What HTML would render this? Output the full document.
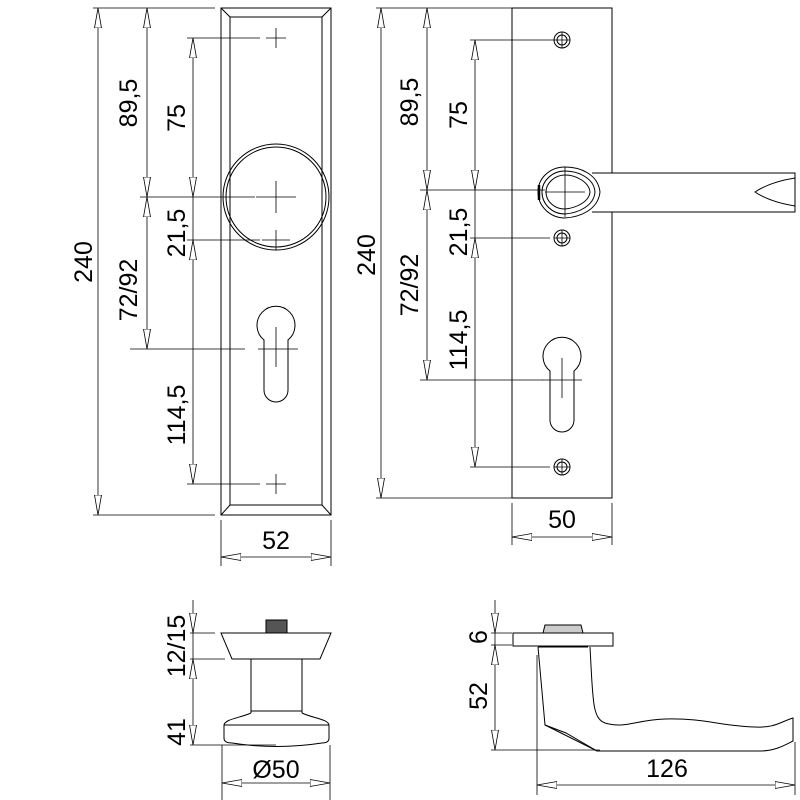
<!DOCTYPE html>
<html><head><meta charset="utf-8"><style>body{margin:0;background:#fff}svg{display:block}text{font-family:"Liberation Sans",sans-serif;font-size:25px;fill:#000}</style></head>
<body>
<svg width="800" height="800" viewBox="0 0 800 800" xmlns="http://www.w3.org/2000/svg">
<defs>
<marker id="a" viewBox="0 0 20 8" refX="20" refY="4" markerWidth="20" markerHeight="8" markerUnits="userSpaceOnUse" orient="auto-start-reverse"><path d="M0,0.5 L20,4 L0,7.5 Z" fill="#fff" stroke="#000" stroke-width="0.8"/></marker>
</defs>
<g fill="none" stroke="#000" stroke-width="1">
<rect x="221" y="8" width="110" height="507"/>
<rect x="230" y="17" width="92" height="488"/>
<path d="M221,8 L230,17 M331,8 L322,17 M221,515 L230,505 M331,515 L322,505"/>
<circle cx="276" cy="197" r="53"/><circle cx="276" cy="197" r="50"/>
<path d="M264,340 A19,19 0 1 1 288,340 L288,390 A12,12 0 0 1 264,390 Z"/>
<g stroke-width="0.8">
<path d="M266,38h20M276,28v20 M256,197h40M276,181v32 M262,240h28M276,230v20 M258,349h40M276,327v40 M266,484h20M276,474v20"/>
<path d="M93,8H215 M187,38H260 M140,197H255 M187,240H260 M130,349H245 M187,484H260 M93,515H215 M221,520V566 M331,520V566"/>
<path d="M98,8V515" marker-start="url(#a)" marker-end="url(#a)"/>
<path d="M147,8V197" marker-start="url(#a)" marker-end="url(#a)"/>
<path d="M147,197V349" marker-start="url(#a)" marker-end="url(#a)"/>
<path d="M193,38V197" marker-start="url(#a)" marker-end="url(#a)"/>
<path d="M193,240V484" marker-start="url(#a)" marker-end="url(#a)"/>
<path d="M193,197V240"/>
<path d="M221,557H331" marker-start="url(#a)" marker-end="url(#a)"/>
</g>
<rect x="512" y="8" width="100" height="490"/>
<circle cx="562" cy="40" r="8"/><circle cx="562" cy="40" r="5"/>
<circle cx="562" cy="238" r="8"/><circle cx="562" cy="238" r="5"/>
<circle cx="562" cy="467" r="8"/><circle cx="562" cy="467" r="5"/>
<path d="M550,371 A19,19 0 1 1 574,371 L574,420 A12,12 0 0 1 550,420 Z"/>
<path d="M592,173 L795,173 L795,212 L592,212" fill="#fff"/>
<path d="M795,178 Q770,182 755,192 Q770,202 795,206"/>
<path d="M565,167 C550,167 538,178 538,192 C538,206 550,218 565,218 C580,217 598,210 600,192 C598,174 580,167 565,167 Z" fill="#fff"/>
<path d="M565,171 C552,171 542,181 542,192 C542,204 552,214 565,214 C578,213 594,206 595,192 C594,178 578,171 565,171 Z"/>
<path d="M565,175 C555,175 546,183 546,192 C546,202 555,209 565,209 C576,208 589,202 590,192 C589,182 576,175 565,175 Z"/>
<path d="M539,185 L539,200" stroke-width="2.5"/>
<g stroke-width="0.8">
<path d="M554,40h16M562,32v16 M554,238h16M562,230v16 M554,467h16M562,459v16 M542,380h40M562,358v40 M545,192h40M565,167v50"/>
<path d="M376,8H512 M470,40H555 M420,190H545 M470,238H550 M420,380H543 M470,467H550 M376,498H512 M512,503V545 M612,503V545"/>
<path d="M381,8V498" marker-start="url(#a)" marker-end="url(#a)"/>
<path d="M427,8V190" marker-start="url(#a)" marker-end="url(#a)"/>
<path d="M427,190V380" marker-start="url(#a)" marker-end="url(#a)"/>
<path d="M475,40V190" marker-start="url(#a)" marker-end="url(#a)"/>
<path d="M475,238V467" marker-start="url(#a)" marker-end="url(#a)"/>
<path d="M475,190V238"/>
<path d="M512,537H612" marker-start="url(#a)" marker-end="url(#a)"/>
</g>
<rect x="266" y="620" width="21" height="13" fill="#555"/>
<path d="M221,633 L331,633 L320,659 L232,659 Z"/>
<path d="M251,659 V713 M302,659 V713 M251,711 H302"/>
<path d="M251,713 C240,718 225,719 224,725 L224,738 Q224,743 232,743 Q276,750 322,743 Q329,743 329,738 L329,725 C328,719 312,718 302,713"/>
<path d="M224,725 H329"/>
<g stroke-width="0.8">
<path d="M190,633H215 M190,659H225 M190,745H276 M222,745V802 M330,745V802"/>
<path d="M193,600V633" marker-end="url(#a)"/>
<path d="M193,659V745" marker-start="url(#a)" marker-end="url(#a)"/>
<path d="M193,633V659"/>
<path d="M222,783H330" marker-start="url(#a)" marker-end="url(#a)"/>
</g>
<rect x="513" y="633" width="100" height="13"/>
<path d="M543,633 L545,625 L581,625 L583,633 Z" fill="#ccc"/>
<path d="M538,647 L588,647"/>
<path d="M538,647 L545,725 L597,751 L760,751 C775,751 785,745 793,741 L793,718 C780,722 775,728 755,727 C720,726 705,718 665,719 C635,720 625,729 605,723 C592,718 593,700 590,647"/>
<path d="M545,725 L566,733 L597,751"/>
<g stroke-width="0.8">
<path d="M491,633H512 M491,645H512 M491,750H600 M537,655V795 M795,742V795"/>
<path d="M495,600V633" marker-end="url(#a)"/>
<path d="M495,645V750" marker-start="url(#a)" marker-end="url(#a)"/>
<path d="M495,633V645"/>
<path d="M537,785H795" marker-start="url(#a)" marker-end="url(#a)"/>
</g>
</g>
<g text-anchor="middle">
<text transform="translate(92,262) rotate(-90)">240</text>
<text transform="translate(137,103) rotate(-90)">89,5</text>
<text transform="translate(185,118) rotate(-90)">75</text>
<text transform="translate(185,233) rotate(-90)">21,5</text>
<text transform="translate(137,290) rotate(-90)">72/92</text>
<text transform="translate(185,415) rotate(-90)">114,5</text>
<text x="276" y="549">52</text>
<text transform="translate(375,255) rotate(-90)">240</text>
<text transform="translate(418,102) rotate(-90)">89,5</text>
<text transform="translate(467,115) rotate(-90)">75</text>
<text transform="translate(467,232) rotate(-90)">21,5</text>
<text transform="translate(418,285) rotate(-90)">72/92</text>
<text transform="translate(467,340) rotate(-90)">114,5</text>
<text x="562" y="528">50</text>
<text transform="translate(185,646) rotate(-90)">12/15</text>
<text transform="translate(185,732) rotate(-90)">41</text>
<text x="276" y="778">Ø50</text>
<text transform="translate(487,637) rotate(-90)">6</text>
<text transform="translate(487,696) rotate(-90)">52</text>
<text x="667" y="777">126</text>
</g>
</svg>
</body></html>
